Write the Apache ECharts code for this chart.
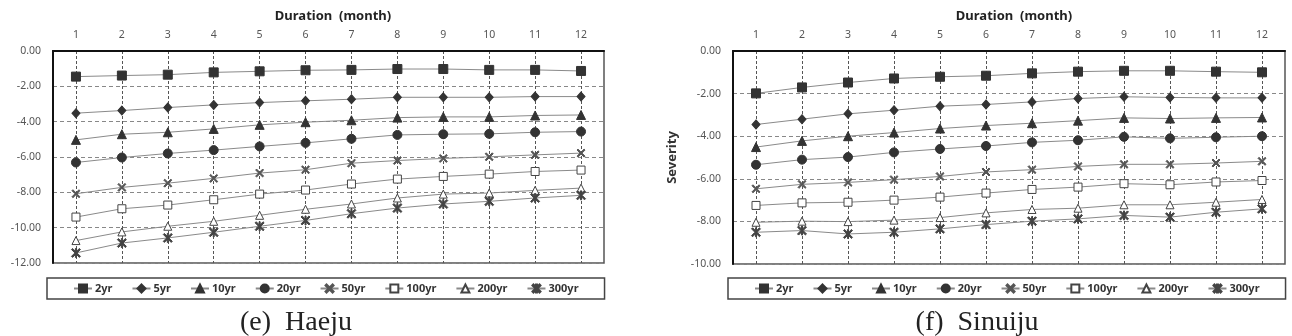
<!DOCTYPE html>
<html lang="en">
<head>
    <meta charset="UTF-8">
    <title>Severity - Duration</title>
    <style>
        html, body { margin: 0; padding: 0; background: #fff; }
        #main { width: 1292px; height: 336px; }
    </style>
</head>
<body>
    <div id="main"></div>
</body>
<script src="https://cdn.jsdelivr.net/npm/echarts@6/dist/echarts.min.js"></script>
<script>
    const months = ['1', '2', '3', '4', '5', '6', '7', '8', '9', '10', '11', '12'];
    const periods = ['2yr', '5yr', '10yr', '20yr', '50yr', '100yr', '200yr', '300yr'];

    // (e) Haeju
    const haeju2 = [-1.45, -1.39, -1.34, -1.21, -1.15, -1.09, -1.07, -1.02, -1.02, -1.07, -1.07, -1.13];
    const haeju5 = [-3.52, -3.37, -3.20, -3.05, -2.92, -2.82, -2.73, -2.62, -2.62, -2.62, -2.58, -2.58];
    const haeju10 = [-5.03, -4.71, -4.60, -4.41, -4.18, -4.03, -3.92, -3.77, -3.73, -3.73, -3.65, -3.62];
    const haeju20 = [-6.31, -6.03, -5.80, -5.61, -5.40, -5.20, -4.97, -4.75, -4.71, -4.69, -4.60, -4.56];
    const haeju50 = [-8.08, -7.72, -7.48, -7.21, -6.91, -6.72, -6.35, -6.20, -6.08, -5.99, -5.88, -5.78];
    const haeju100 = [-9.40, -8.93, -8.72, -8.42, -8.10, -7.87, -7.53, -7.25, -7.10, -6.97, -6.82, -6.74];
    const haeju200 = [-10.73, -10.24, -9.92, -9.64, -9.30, -8.96, -8.66, -8.32, -8.10, -8.04, -7.89, -7.76];
    const haeju300 = [-11.43, -10.87, -10.58, -10.26, -9.92, -9.59, -9.21, -8.89, -8.66, -8.51, -8.32, -8.17];

    // (f) Sinuiju
    const sinuiju2 = [-1.99, -1.71, -1.48, -1.29, -1.21, -1.16, -1.05, -0.97, -0.93, -0.93, -0.97, -1.00];
    const sinuiju5 = [-3.45, -3.20, -2.95, -2.78, -2.59, -2.51, -2.39, -2.23, -2.15, -2.18, -2.20, -2.20];
    const sinuiju10 = [-4.51, -4.22, -4.00, -3.83, -3.64, -3.50, -3.39, -3.27, -3.14, -3.17, -3.14, -3.12];
    const sinuiju20 = [-5.34, -5.10, -4.98, -4.76, -4.60, -4.46, -4.29, -4.19, -4.03, -4.10, -4.05, -4.00];
    const sinuiju50 = [-6.47, -6.26, -6.17, -6.04, -5.89, -5.68, -5.57, -5.42, -5.32, -5.32, -5.26, -5.18];
    const sinuiju100 = [-7.25, -7.13, -7.10, -7.00, -6.86, -6.67, -6.50, -6.39, -6.23, -6.28, -6.15, -6.08];
    const sinuiju200 = [-8.04, -7.99, -8.01, -7.94, -7.82, -7.60, -7.44, -7.38, -7.22, -7.22, -7.10, -6.97];
    const sinuiju300 = [-8.51, -8.43, -8.59, -8.51, -8.35, -8.15, -7.99, -7.88, -7.72, -7.80, -7.57, -7.41];

    const haejuSeries = [haeju2, haeju5, haeju10, haeju20, haeju50, haeju100, haeju200, haeju300];
    const sinuijuSeries = [sinuiju2, sinuiju5, sinuiju10, sinuiju20, sinuiju50, sinuiju100, sinuiju200, sinuiju300];

    const FONT = '"Noto Sans", "DejaVu Sans", sans-serif';
    const X_PATH = 'M0,1.2L1.2,0L5,3.8L8.8,0L10,1.2L6.2,5L10,8.8L8.8,10L5,6.2L1.2,10L0,8.8L3.8,5Z';
    const STAR_PATH = X_PATH + 'M4.4,0L5.6,0L5.6,10L4.4,10Z';

    // marker look per return period
    const markers = [
        { symbol: 'rect', size: 9, color: '#333', border: '#333' },
        { symbol: 'diamond', size: [8, 9], color: '#333', border: '#333' },
        { symbol: 'triangle', size: 9, color: '#333', border: '#333' },
        { symbol: 'circle', size: 9, color: '#333', border: '#333' },
        { symbol: 'path://' + X_PATH, size: 8, color: '#555', border: '#555' },
        { symbol: 'rect', size: 8, color: '#fff', border: '#444' },
        { symbol: 'triangle', size: 8, color: '#fff', border: '#444' },
        { symbol: 'path://' + STAR_PATH, size: 9, color: '#444', border: '#444' }
    ];

    function buildSeries(list, idx) {
        return list.map((data, i) => ({
            name: periods[i],
            type: 'line',
            xAxisIndex: idx,
            yAxisIndex: idx,
            data: data,
            symbol: markers[i].symbol,
            symbolSize: markers[i].size,
            showAllSymbol: true,
            silent: true,
            animation: false,
            lineStyle: { color: '#8a8a8a', width: 1 },
            itemStyle: { color: markers[i].color, borderColor: markers[i].border, borderWidth: 1 },
            z: 3 + i
        }));
    }

    function xAxisFor(idx) {
        return {
            type: 'category',
            gridIndex: idx,
            position: 'top',
            data: months,
            boundaryGap: true,
            axisLine: { lineStyle: { color: '#111', width: 2 } },
            axisTick: { show: false },
            axisLabel: { color: '#555', fontSize: 10.5, fontFamily: FONT, margin: 10 },
            splitLine: { show: true, alignWithLabel: true, lineStyle: { color: '#555', type: [3, 2], width: 1 } }
        };
    }

    function yAxisFor(idx, min, title) {
        return {
            type: 'value',
            gridIndex: idx,
            min: min,
            max: 0,
            interval: 2,
            name: title,
            nameLocation: 'middle',
            nameRotate: 90,
            nameGap: 54,
            nameTextStyle: { color: '#333', fontSize: 13, fontWeight: 'bold', fontFamily: FONT },
            axisLine: { show: true, lineStyle: { color: '#111', width: 2 } },
            axisTick: { show: false },
            axisLabel: { color: '#555', fontSize: 10.5, fontFamily: FONT, margin: 12, formatter: v => v.toFixed(2) },
            splitLine: { show: true, lineStyle: { color: '#888', type: [4, 3], width: 1 } }
        };
    }

    function legendFor(left) {
        return {
            left: left,
            top: 278,
            data: periods,
            itemWidth: 18,
            itemHeight: 10,
            itemGap: 19,
            padding: [5, 26],
            borderColor: '#444',
            borderWidth: 1.5,
            selectedMode: false,
            textStyle: { color: '#333', fontSize: 11, fontWeight: 'bold', fontFamily: FONT, padding: [0, 0, 0, -2] }
        };
    }

    function load() {
        const chart = echarts.init(document.getElementById('main'), null, { renderer: 'canvas' });
        chart.setOption({
            backgroundColor: '#fff',
            animation: false,
            title: [
                { text: 'Duration  (month)', left: 328, top: 5, textAlign: 'center',
                  textStyle: { fontSize: 13, fontWeight: 'bold', color: '#222', fontFamily: FONT } },
                { text: 'Duration  (month)', left: 1009, top: 5, textAlign: 'center',
                  textStyle: { fontSize: 13, fontWeight: 'bold', color: '#222', fontFamily: FONT } }
            ],
            grid: [
                { left: 53, top: 51, width: 551, height: 212, show: true, borderColor: '#555', borderWidth: 1.5 },
                { left: 733, top: 51, width: 552, height: 213, show: true, borderColor: '#555', borderWidth: 1.5 }
            ],
            xAxis: [xAxisFor(0), xAxisFor(1)],
            // the left panel's axis title is cut off by the page edge in the reference
            yAxis: [yAxisFor(0, -12, ''), yAxisFor(1, -10, 'Severity')],
            legend: [legendFor(47), legendFor(728)],
            graphic: [
                { type: 'text', x: 296, y: 323, style: { text: '(e)  Haeju', fill: '#222',
                  font: '28px "Liberation Serif", "DejaVu Serif", serif', textAlign: 'center', textVerticalAlign: 'middle' } },
                { type: 'text', x: 977, y: 323, style: { text: '(f)  Sinuiju', fill: '#222',
                  font: '28px "Liberation Serif", "DejaVu Serif", serif', textAlign: 'center', textVerticalAlign: 'middle' } }
            ],
            series: buildSeries(haejuSeries, 0).concat(buildSeries(sinuijuSeries, 1))
        });
    }

    window.onload = function () {
        load();
    }
</script>
</html>
